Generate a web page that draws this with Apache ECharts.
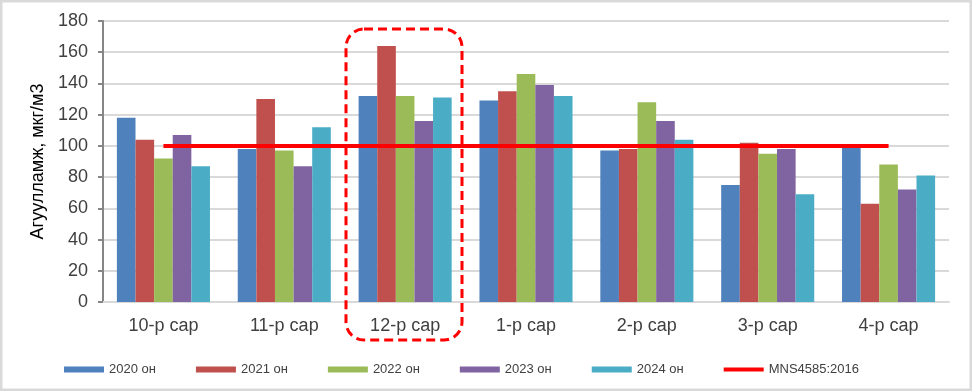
<!DOCTYPE html>
<html><head><meta charset="utf-8">
<script src="https://cdn.jsdelivr.net/npm/echarts@6/dist/echarts.min.js"></script>
<style>html,body{margin:0;padding:0;background:#fff}#c{width:972px;height:391px}</style>
</head><body><div id="c"></div>
<script>
const categories = ['10-р сар','11-р сар','12-р сар','1-р сар','2-р сар','3-р сар','4-р сар'];
const yTicks = [0,20,40,60,80,100,120,140,160,180];
const s2020 = [118, 98, 132, 129, 97, 75, 99];
const s2021 = [104, 130, 164, 135, 98, 102, 63];
const s2022 = [92, 97, 132, 146, 128, 95, 88];
const s2023 = [107, 87, 116, 139, 116, 98, 72];
const s2024 = [87, 112, 131, 132, 104, 69, 81];
const standard = [100, 100, 100, 100, 100, 100, 100];
const seriesNames = ['2020 он','2021 он','2022 он','2023 он','2024 он','MNS4585:2016'];
const yName = 'Агуулламж, мкг/м3';

const colors = ['#4F81BD','#C0504D','#9BBB59','#8064A2','#4BACC6','#FF0000'];
const font = 'Liberation Sans, Arial, sans-serif';
const chart = echarts.init(document.getElementById('c'), null, {renderer:'canvas'});
const barData = [s2020,s2021,s2022,s2023,s2024];
const series = barData.map((d,i)=>({
  name: seriesNames[i], type:'bar', data:d, barGap:'0%', barCategoryGap:'23%',
  itemStyle:{color:colors[i]}, z:2
}));
series.push({
  name: seriesNames[5], type:'line', data:standard, symbol:'none',
  lineStyle:{color:colors[5], width:4}, itemStyle:{color:colors[5]}, z:5
});
chart.setOption({
  animation:false,
  textStyle:{fontFamily:font},
  grid:{left:103, right:23, top:21, bottom:89},
  legend:{
    left:59, top:358, itemWidth:40, itemHeight:6, itemGap:40,
    textStyle:{fontFamily:font, fontSize:13, color:'#404040'},
    data: seriesNames.map((n,i)=> i<5 ? {name:n, icon:'rect'} : {name:n, icon:'path://M0,0H40V4H0Z'})
  },
  xAxis:{
    type:'category', data:categories,
    axisLine:{lineStyle:{color:'#d9d9d9', width:2}},
    axisTick:{show:false},
    axisLabel:{fontSize:18, color:'#404040', margin:15, fontFamily:font}
  },
  yAxis:{
    type:'value', min:yTicks[0], max:yTicks[yTicks.length-1], interval:20,
    name:yName, nameLocation:'middle', nameGap:50,
    nameTextStyle:{fontSize:18, color:'#000', fontFamily:font},
    axisLine:{show:true, lineStyle:{color:'#868686', width:2}},
    axisTick:{show:true, length:5, lineStyle:{color:'#868686', width:2}},
    axisLabel:{fontSize:18, color:'#404040', margin:15, fontFamily:font},
    splitLine:{lineStyle:{color:'#d9d9d9', width:2}}
  },
  series: series,
  graphic:[
    {type:'rect', shape:{x:1.25, y:1.25, width:969.5, height:388.5}, style:{fill:'none', stroke:'#d9d9d9', lineWidth:2.5}, silent:true},
    {type:'rect', shape:{x:346, y:29, width:116, height:311, r:18}, style:{fill:'none', stroke:'#FF0000', lineWidth:3, lineDash:[9,5]}, z:10, silent:true}
  ]
});
</script></body></html>
